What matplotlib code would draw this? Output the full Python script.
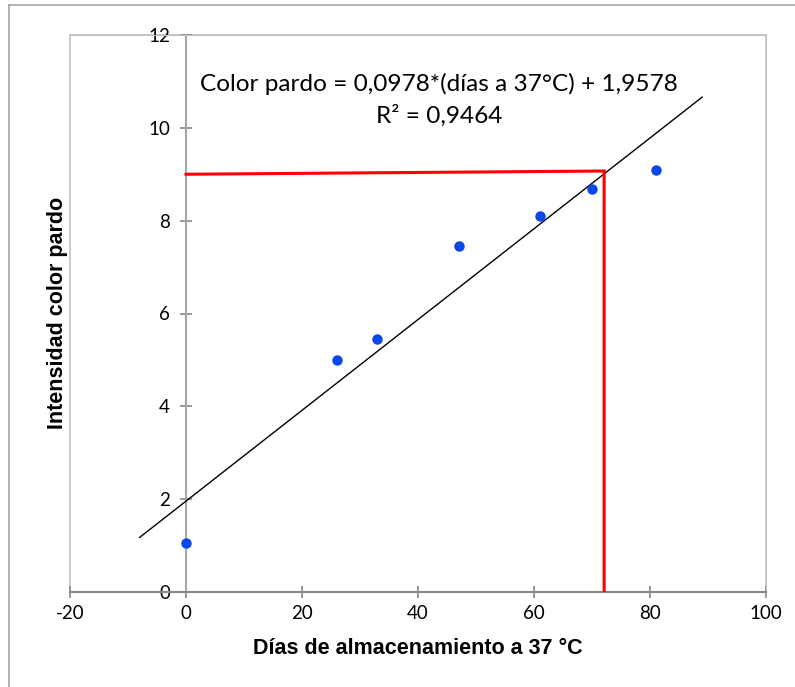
import matplotlib
matplotlib.use("Agg")
import matplotlib.pyplot as plt
from matplotlib.lines import Line2D
from matplotlib.patches import Rectangle

plt.rcParams["axes.unicode_minus"] = False

# measured points (days at 37 C, brown colour intensity)
dias = [0, 26, 33, 47, 61, 70, 81]
color_pardo = [1.05, 5.0, 5.45, 7.45, 8.1, 8.68, 9.1]

# linear trend from the chart's equation, forecast 8 days each way
pendiente = 0.0978
intercepto = 1.9578
trend_x = [-8, 89]

# red guide lines drawn by hand on the chart
guia_x = [0, 72.1, 72.1]
guia_y = [9.0, 9.07, 0]

xticks = [-20, 0, 20, 40, 60, 80, 100]
yticks = [0, 2, 4, 6, 8, 10, 12]

W, H = 795, 687
fig = plt.figure(figsize=(W / 100, H / 100), dpi=100)
ax = fig.add_axes([70 / W, (H - 592) / H, 696 / W, 557 / H])

ax.set_xlim(-20, 100)
ax.set_ylim(0, 12)

# plot area border
for s in ["top", "right"]:
    ax.spines[s].set_color("#c0c0c0")
ax.add_patch(Rectangle((0, 0), 1, 1, transform=ax.transAxes, fill=False,
                       edgecolor="#c0c0c0", lw=1.2, zorder=0, clip_on=False))
ax.spines["bottom"].set_color("#888888")
ax.spines["bottom"].set_linewidth(1.5)

# y axis crosses at x = 0
ax.spines["left"].set_position(("data", 0))
ax.spines["left"].set_color("#a6a6a6")
ax.spines["left"].set_linewidth(1.5)

ax.set_xticks(xticks)
ax.set_yticks(yticks)
ax.tick_params(axis="both", direction="inout", length=9, width=1.2,
               color="#888888", labelsize=13.5, pad=5)
ax.tick_params(axis="y", pad=7)
for lab in ax.get_xticklabels() + ax.get_yticklabels():
    lab.set_family("Lato")

tx = [trend_x[0], trend_x[1]]
ty = [intercepto + pendiente * v for v in tx]
ax.plot(tx, ty, color="black", lw=1.0, zorder=3)

ax.plot(guia_x, guia_y, color="#ff0000", lw=2.2, zorder=4, solid_joinstyle="miter")

ax.plot(dias, color_pardo, "o", color="#0a47e6", markersize=6.5, zorder=5)

ax.text(43.6, 10.95, "Color pardo = 0,0978*(días a 37°C) + 1,9578",
        ha="center", va="center", fontsize=17.6, family="Lato")
ax.text(43.6, 10.27, "R² = 0,9464", ha="center", va="center",
        fontsize=17.6, family="Lato")

fig.text(417.5 / W, 1 - 648 / H, "Días de almacenamiento a 37 °C",
         ha="center", va="center", fontsize=15.5, fontweight="bold",
         family="Liberation Sans")
fig.text(57 / W, 1 - 313 / H, "Intensidad color pardo", rotation=90,
         ha="center", va="center", fontsize=15.5, fontweight="bold",
         family="Liberation Sans")

# outer chart border (only left and top visible in crop)
fig.add_artist(Line2D([9 / W, 9 / W], [0, 1 - 5 / H], color="#a6a6a6", lw=1.2))
fig.add_artist(Line2D([9 / W, 1], [1 - 5 / H, 1 - 5 / H], color="#a6a6a6", lw=1.2))

fig.savefig("out.png", dpi=100)
